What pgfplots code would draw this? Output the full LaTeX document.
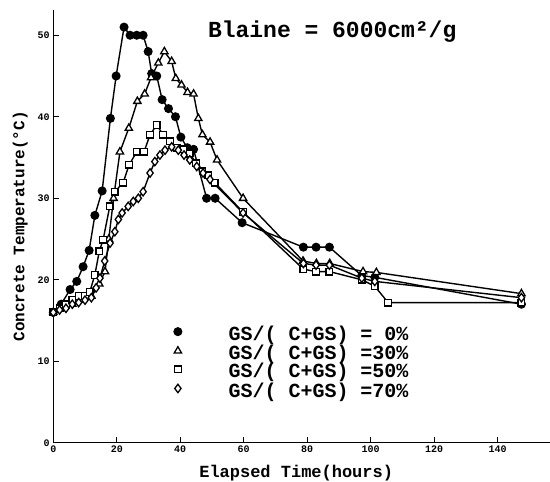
\documentclass[border=0pt]{standalone}
\usepackage{fontspec}
\setmainfont{Liberation Mono}
\usepackage{pgfplots}
\usepackage{pgfplotstable}
\pgfplotsset{compat=1.18}

\pgfplotstableread{
x y
0 16
2.5 17
5.3 18.8
7.4 19.8
9.4 21.6
11.3 23.6
13.1 27.9
15.4 30.9
18.0 39.8
19.8 45.0
22.3 51.0
24.2 50.0
26.3 50.0
28.3 50.0
29.9 48.0
31.0 45.3
32.6 45.0
34.3 42.1
36.3 41.0
38.5 40.0
40.2 37.5
42.2 36.2
44.2 36.0
48.3 30.0
51.0 30.0
59.5 27.0
78.8 24.0
82.8 24.0
87.0 24.0
97.2 20.5
101.3 20.3
147.5 17.0
}\gsa

\pgfplotstableread{
x y
0 16
3 16.5
6 17
9 17.5
12 18
14.5 19.5
16.3 21
17.5 25
19 30
21 35.7
23.8 38.6
26.5 41.9
28.8 42.8
30.8 44.8
33.1 46.6
35.0 48.0
37.3 46.8
38.6 44.7
40.4 43.9
42.3 43.0
44.2 42.8
45.7 39.8
47.0 37.8
49.4 36.9
51.6 34.7
59.8 30.0
78.7 22.3
82.9 22.0
87.1 22.0
97.6 21.0
101.8 20.9
147.5 18.3
}\gsb

\pgfplotstableread{
x y
0 16
2 16.5
4 17
6 17.5
8 18
10 18
11.5 18.5
13.1 20.6
14.5 23.5
15.7 24.9
17.8 29.0
19.4 30.8
22.0 31.9
23.9 34.1
26.3 35.7
28.6 35.7
30.5 37.8
32.6 39.0
34.6 37.8
36.8 37.0
39.0 36.2
41.0 36.0
43.0 35.5
45.0 34.3
47.0 33.3
48.8 32.8
50.9 31.9
59.8 28.3
78.8 21.3
82.8 21.0
87.0 21.0
97.2 20.0
101.3 19.2
105.5 17.2
147.5 17.2
}\gsc

\pgfplotstableread{
x y
0 16
2 16.3
4 16.5
6 17
8 17.2
10 17.5
12 17.8
13.5 19
14.7 20.2
16.2 22.3
17.9 24.5
19.4 25.9
20.5 27.4
21.7 28.2
23.6 29.0
25.2 29.6
26.8 30.0
28.3 30.8
30.5 33.1
32.0 34.5
33.6 35.3
35.2 35.9
37.3 36.3
39.4 35.9
41.2 35.3
43.0 34.7
45.2 33.9
47.2 33.1
49.4 32.3
59.8 28.2
78.8 22.0
82.8 21.8
87.0 21.8
97.2 20.2
101.3 19.8
147.5 17.8
}\gsd

\begin{document}
\begin{tikzpicture}
\begin{axis}[
  width=497pt, height=433pt, scale only axis,
  xmin=0, xmax=156.5, ymin=0, ymax=53.1,
  axis lines=left,
  axis line style={line width=1.4pt,-},
  xtick={0,20,...,140}, ytick={0,10,...,50},
  tick align=inside, major tick length=6pt,
  every tick/.style={black,line width=1.2pt},
  /pgf/number format/assume math mode=true,
  tick label style={font=\bfseries\fontsize{10}{10}\selectfont},
  xlabel={Elapsed Time(hours)},
  ylabel={Concrete Temperature(°C)},
  xlabel style={font=\bfseries\fontsize{17}{17}\selectfont, at={(rel axis cs:0.489,0)}, anchor=base, yshift=-35pt},
  ylabel style={font=\bfseries\fontsize{16}{16}\selectfont, at={(rel axis cs:0,0.5)}, anchor=center, yshift=33pt},
  legend style={draw=none, fill=none, at={(rel axis cs:0.239,0.266)}, anchor=north west,
    font=\bfseries\fontsize{20}{20}\selectfont, row sep=6.3pt, inner sep=0pt,
    nodes={inner sep=0pt, text height=11.5pt, text depth=0pt}},
  legend cell align=left,
  legend image code/.code={\draw[#1,only marks] plot coordinates {(0pt,0.3em)}; \path (-5pt,0pt) (50pt,0pt);},
  every axis plot/.append style={black, line width=1.4pt},
]
\addplot[mark=*, mark size=3.8pt, mark options={fill=black, draw=black}] table {\gsa};
\addlegendentry{GS/( C+GS) = 0\%}
\addplot[mark=triangle*, mark size=4.2pt, mark options={fill=white, draw=black, line width=1.3pt}] table {\gsb};
\addlegendentry{GS/( C+GS) =30\%}
\addplot[mark=square*, mark size=3.3pt, mark options={fill=white, draw=black, line width=1.3pt}] table {\gsc};
\addlegendentry{GS/( C+GS) =50\%}
\addplot[mark=diamond*, mark size=4.2pt, mark options={fill=white, draw=black, line width=1.3pt}] table {\gsd};
\addlegendentry{GS/( C+GS) =70\%}
\node[anchor=base west, inner sep=0pt, font=\bfseries\fontsize{23}{23}\selectfont] at (axis cs:48.7,49.7) {Blaine = 6000cm²/g};
\end{axis}
\pgfresetboundingbox
\path ([xshift=-53.3pt,yshift=-38.7pt]current axis.south west) rectangle ([yshift=10pt]current axis.north east);
\end{tikzpicture}
\end{document}
